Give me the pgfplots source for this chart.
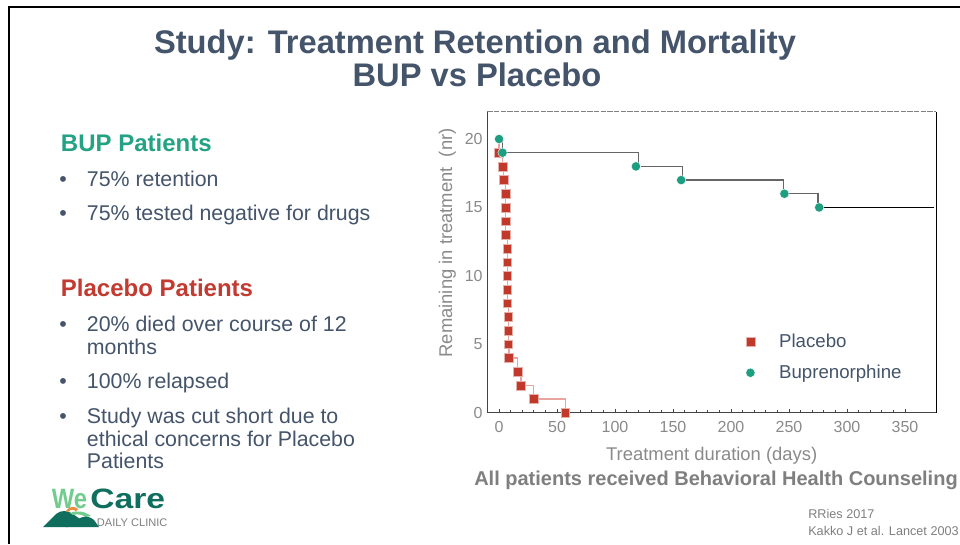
\documentclass[border=0pt]{standalone}
\usepackage{fontspec}
\setmainfont{Liberation Sans}
\usepackage{pgfplots}
\pgfplotsset{compat=1.18}
\definecolor{slate}{HTML}{44546A}
\definecolor{bupgreen}{HTML}{1E9E80}
\definecolor{hdrgreen}{HTML}{23A383}
\definecolor{plred}{HTML}{C0392B}
\definecolor{hdrred}{HTML}{C23A30}
\definecolor{tickgray}{HTML}{8A8A8A}
\definecolor{plpink}{HTML}{E8A59F}
\definecolor{stepgray}{HTML}{666666}
\definecolor{axgray}{HTML}{444444}
\definecolor{notegray}{HTML}{7F7F7F}
\definecolor{logodark}{HTML}{0F6E5E}
\definecolor{logolight}{HTML}{72CC8E}
\definecolor{logoorange}{HTML}{F08A3C}
\begin{document}
\begin{tikzpicture}
\useasboundingbox (0,0) rectangle (720pt,408pt);
\fill[white] (0,0) rectangle (720pt,408pt);
\begin{scope}[x=0.75pt,y=-0.75pt,yshift=408pt]
  % slide frame
  \draw[black, line width=1.8pt] (8,7) -- (960,7);
  \draw[black, line width=1.8pt] (9,7) -- (9,544);
  % title
  \node[anchor=base, text=slate, font=\fontsize{24.5}{29}\selectfont\bfseries, inner sep=0pt] at (475,53.7) {Study: Treatment Retention and Mortality};
  \node[anchor=base, text=slate, font=\fontsize{24.5}{29}\selectfont\bfseries, inner sep=0pt] at (477,86.7) {BUP vs Placebo};
  % left text
  \node[anchor=base west, text=hdrgreen, font=\fontsize{18}{21}\selectfont\bfseries, inner sep=0pt] at (60.7,151.7) {BUP Patients};
  \node[anchor=base west, text=slate, font=\fontsize{16}{19}\selectfont, inner sep=0pt] at (59,186.7) {•};
  \node[anchor=base west, text=slate, font=\fontsize{16}{19}\selectfont, inner sep=0pt] at (86.7,186.7) {75\% retention};
  \node[anchor=base west, text=slate, font=\fontsize{16}{19}\selectfont, inner sep=0pt] at (59,220) {•};
  \node[anchor=base west, text=slate, font=\fontsize{16}{19}\selectfont, inner sep=0pt] at (86.7,220) {75\% tested negative for drugs};
  \node[anchor=base west, text=hdrred, font=\fontsize{18}{21}\selectfont\bfseries, inner sep=0pt] at (60.7,296) {Placebo Patients};
  \node[anchor=base west, text=slate, font=\fontsize{16}{19}\selectfont, inner sep=0pt] at (59,331.7) {•};
  \node[anchor=base west, text=slate, font=\fontsize{16}{19}\selectfont, inner sep=0pt] at (86.7,331.7) {20\% died over course of 12};
  \node[anchor=base west, text=slate, font=\fontsize{16}{19}\selectfont, inner sep=0pt] at (86.7,354) {months};
  \node[anchor=base west, text=slate, font=\fontsize{16}{19}\selectfont, inner sep=0pt] at (59,388.3) {•};
  \node[anchor=base west, text=slate, font=\fontsize{16}{19}\selectfont, inner sep=0pt] at (86.7,388.3) {100\% relapsed};
  \node[anchor=base west, text=slate, font=\fontsize{16}{19}\selectfont, inner sep=0pt] at (59,423.3) {•};
  \node[anchor=base west, text=slate, font=\fontsize{16}{19}\selectfont, inner sep=0pt] at (86.7,423.3) {Study was cut short due to};
  \node[anchor=base west, text=slate, font=\fontsize{16}{19}\selectfont, inner sep=0pt] at (86.7,446.7) {ethical concerns for Placebo};
  \node[anchor=base west, text=slate, font=\fontsize{16}{19}\selectfont, inner sep=0pt] at (86.7,468.3) {Patients};
  % caption under chart
  \node[anchor=base west, text=notegray, font=\fontsize{15}{18}\selectfont\bfseries, inner sep=0pt] at (474,485) {All patients received Behavioral Health Counseling};
  % references
  \node[anchor=base west, text=notegray, font=\fontsize{9.5}{11}\selectfont, inner sep=0pt] at (808,518) {RRies 2017};
  \node[anchor=base west, text=notegray, font=\fontsize{9.5}{11}\selectfont, inner sep=0pt] at (808,535) {Kakko J et al. Lancet 2003};
  % logo
  \fill[logodark] (43,527) -- (56,514) .. controls (61,510) and (67,510) .. (73,514) -- (80,519) -- (68,527) -- cycle;
  \fill[logolight] (70,513) .. controls (77,510) and (84,511) .. (91,516) -- (86,517) .. controls (81,514) and (77,514) .. (73,515) -- cycle;
  \fill[logodark] (66,527) -- (77,520) .. controls (82,516) and (88,515) .. (94,520) -- (99,527) -- cycle;
  \fill[logoorange] (66,511) .. controls (69,506) and (75,506) .. (78,509) -- (76,511.5) .. controls (74,509) and (71,509) .. (68,512) -- cycle;
  \node[anchor=base west, text=logolight, font=\fontsize{21}{24}\selectfont\bfseries, inner sep=0pt, xscale=0.85] at (51.7,508) {We};
  \node[anchor=base west, text=logodark, font=\fontsize{21}{24}\selectfont\bfseries, inner sep=0pt, xscale=1.2] at (90,508) {Care};
  \node[anchor=base west, text=notegray, font=\fontsize{8.3}{10}\selectfont, inner sep=0pt] at (96.7,526.7) {DAILY CLINIC};
\end{scope}
\begin{axis}[
  scale only axis, width=336.5pt, height=225.75pt,
  at={(365.5pt,98.5pt)}, anchor=south west,
  xmin=-10.1, xmax=376.7, ymin=0, ymax=22,
  xtick={0,50,...,350}, ytick={0,5,10,15,20},
  minor x tick num=4,
  tick align=inside, xtick pos=bottom, ytick pos=left,
  ytick style={draw=none},
  xtick style={color=axgray, line width=0.6pt},
  major tick length=3pt, minor tick length=2.2pt,
  axis line style={draw=none},
  /pgf/number format/assume math mode=true,
  ticklabel style={font=\fontsize{12}{14}\selectfont, text=tickgray},
  xticklabel style={yshift=-3pt},
  label style={font=\fontsize{13.8}{16}\selectfont, text=tickgray},
  xlabel={Treatment duration (days)},
  ylabel={Remaining in treatment\ \ (nr)},
  xlabel style={at={(axis description cs:0.5,-0.159)}, anchor=base},
  ylabel style={at={(axis description cs:-0.089,0.564)}, anchor=center},
  clip=false,
  legend cell align=left,
  legend style={draw=none, fill=none, font=\fontsize{14}{16}\selectfont, text=slate,
    at={(axis cs:209,6.15)}, anchor=north west, row sep=7.5pt,
    /tikz/every odd column/.append style={column sep=16pt}},
]
% axis frame
\draw[notegray, dash pattern=on 4pt off 1pt, line width=0.6pt] (rel axis cs:0,1) -- (rel axis cs:1,1);
\draw[black, line width=0.6pt] (rel axis cs:1,0) -- (rel axis cs:1,1);
\draw[axgray, line width=1pt] (rel axis cs:0,1) -- (rel axis cs:0,0) -- (rel axis cs:1,0);
% step lines
\addplot[const plot, plpink, line width=0.9pt, forget plot] coordinates {
 (0,20) (0,19) (3,18) (4,17) (5.5,16) (5.5,15) (5.5,14) (5.5,13)
 (7,12) (7,11) (7,10) (7,9) (7,8) (7.8,7) (7.8,6) (7.8,5) (8.5,4)
 (16,3) (19,2) (30,1) (57,0)};
\addplot[const plot, stepgray, line width=0.9pt, forget plot] coordinates {
 (0,20) (3,19) (120,18) (158,17) (245,16) (275,15)};
\addplot[black, line width=0.6pt, forget plot] coordinates {(275,15) (375,15)};
% markers
\addplot[only marks, mark=square*, mark size=3.3pt, mark options={fill=plred, draw=white!60!plred, line width=0.3pt}] coordinates {
 (0,19) (3,18) (4,17) (5.5,16) (5.5,15) (5.5,14) (5.5,13)
 (7,12) (7,11) (7,10) (7,9) (7,8) (7.8,7) (7.8,6) (7.8,5) (8.5,4)
 (16,3) (19,2) (30,1) (57,0)};
\addlegendentry{Placebo}
\addplot[only marks, mark=*, mark size=3.5pt, mark options={fill=bupgreen, draw=white, line width=0.3pt}] coordinates {
 (0,20) (3,19) (118,18) (157,17) (246,16) (276,15)};
\addlegendentry{Buprenorphine}
\end{axis}
\end{tikzpicture}
\end{document}
